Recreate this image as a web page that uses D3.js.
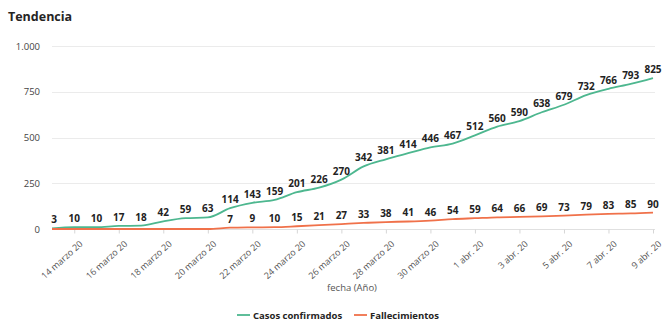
<!DOCTYPE html>
<html>
<head>
<meta charset="utf-8">
<script src="https://cdn.jsdelivr.net/npm/d3@7"></script>
<style>
  html, body { margin: 0; padding: 0; background: #fff; }
  svg { display: block; font-family: "Open Sans", "Noto Sans", sans-serif; }
</style>
</head>
<body>
<svg id="chart" width="670" height="327"></svg>
<script>
// Daily series, 13 March 2020 to 9 April 2020
const startDate = "2020-03-13";
const casos = [3, 10, 10, 17, 18, 42, 59, 63, 114, 143, 159, 201, 226, 270,
               342, 381, 414, 446, 467, 512, 560, 590, 638, 679, 732, 766, 793, 825];
const fallecimientos = [0, 0, 0, 0, 0, 0, 0, 0, 7, 9, 10, 15, 21, 27,
                        33, 38, 41, 46, 54, 59, 64, 66, 69, 73, 79, 83, 85, 90];
const yTicks = [0, 250, 500, 750, 1000];
const meses = ["enero", "feb.", "marzo", "abr.", "mayo", "jun.", "jul.", "ago.", "sept.", "oct.", "nov.", "dic."];

const series = [
  { name: "Casos confirmados", values: casos, color: "#4db78f", labelAll: true },
  { name: "Fallecimientos", values: fallecimientos, color: "#f0714a", labelAll: false }
];

const parse = d3.utcParse("%Y-%m-%d");
const day0 = parse(startDate);
const dates = casos.map((_, i) => d3.utcDay.offset(day0, i));

const svg = d3.select("#chart");
const margin = { left: 52, right: 17, top: 46, bottom: 98 };
const W = 670, H = 327;

const x = d3.scaleUtc()
  .domain([dates[0], dates[dates.length - 1]])
  .range([margin.left, W - margin.right]);
const y = d3.scaleLinear()
  .domain([0, 1000])
  .range([H - margin.bottom, margin.top]);

// Title
svg.append("text")
  .attr("x", 8).attr("y", 21)
  .attr("font-size", 12.5).attr("font-weight", 700)
  .attr("fill", "#252423")
  .text("Tendencia");

// Horizontal gridlines and value axis
const fmtY = d => d3.format(",")(d).replace(/,/g, ".");
svg.append("g")
  .selectAll("line")
  .data(yTicks.filter(d => d > 0))
  .join("line")
  .attr("x1", margin.left).attr("x2", W - margin.right + 2)
  .attr("y1", d => Math.round(y(d)) + 0.5).attr("y2", d => Math.round(y(d)) + 0.5)
  .attr("stroke", "#ebebeb");

svg.append("g")
  .selectAll("text")
  .data(yTicks)
  .join("text")
  .attr("x", 40).attr("y", d => y(d) + 3.5)
  .attr("text-anchor", "end")
  .attr("font-size", 9.5).attr("fill", "#444")
  .text(fmtY);

// Date axis
const tickDates = dates.filter((d, i) => i % 2 === 1);
const fmtX = d => `${d.getUTCDate()} ${meses[d.getUTCMonth()]} 20`;
const xAxis = d3.axisBottom(x)
  .tickValues(tickDates)
  .tickSize(4)
  .tickSizeOuter(0)
  .tickFormat(fmtX);
const gx = svg.append("g")
  .attr("transform", `translate(0,${y(0) + 0.5})`)
  .call(xAxis);
gx.select(".domain").attr("stroke", "#e0e0e0").attr("d", `M${margin.left},0H${W - margin.right + 2}`);
gx.selectAll(".tick line").attr("stroke", "#d6d6d6");
gx.selectAll(".tick text")
  .attr("font-family", "'Open Sans', 'Noto Sans', sans-serif")
  .attr("font-size", 9).attr("fill", "#555")
  .attr("text-anchor", "end")
  .attr("dy", 0)
  .attr("transform", "translate(4,10) rotate(-42)");

svg.append("text")
  .attr("x", 352).attr("y", 291)
  .attr("text-anchor", "middle")
  .attr("font-size", 9.5).attr("fill", "#555")
  .text("fecha (Año)");

// Lines
const line = d3.line()
  .x((d, i) => x(dates[i]))
  .y(d => y(d))
  .curve(d3.curveMonotoneX);

series.forEach(s => {
  svg.append("path")
    .datum(s.values)
    .attr("fill", "none")
    .attr("stroke", s.color)
    .attr("stroke-width", 1.8)
    .attr("d", line);
});

// Data labels
series.forEach(s => {
  svg.append("g")
    .selectAll("text")
    .data(s.values.map((v, i) => ({ v, i })).filter(d => s.labelAll || d.v > 0))
    .join("text")
    .attr("x", d => x(dates[d.i]) + (d.i === 0 ? 2 : 0))
    .attr("y", d => y(d.v) - 5)
    .attr("text-anchor", "middle")
    .attr("font-size", 10).attr("font-weight", 700)
    .attr("fill", "#222")
    .text(d => d.v);
});

// Legend
const legend = svg.append("g").attr("transform", "translate(237,315)");
const legendItems = [
  { s: series[0], x: 0 },
  { s: series[1], x: 117 }
];
legendItems.forEach(it => {
  const g = legend.append("g").attr("transform", `translate(${it.x},0)`);
  g.append("line").attr("x1", 0).attr("x2", 13).attr("y1", 0).attr("y2", 0)
    .attr("stroke", it.s.color).attr("stroke-width", 1.8);
  g.append("text").attr("x", 16).attr("y", 3.5)
    .attr("font-size", 9.5).attr("font-weight", 700).attr("fill", "#252423")
    .text(it.s.name);
});
</script>
</body>
</html>
